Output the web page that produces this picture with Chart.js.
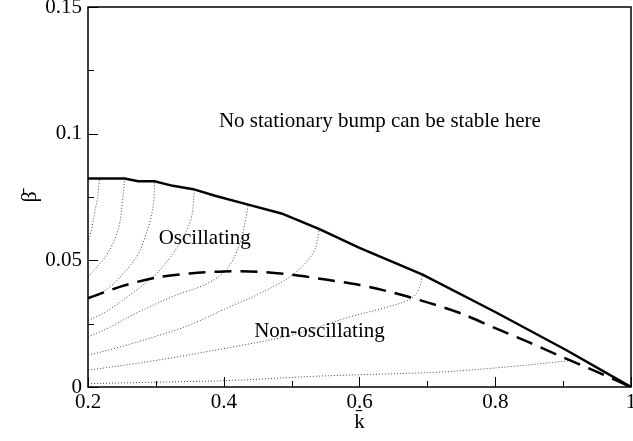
<!DOCTYPE html>
<html>
<head>
<meta charset="utf-8">
<script src="https://cdn.jsdelivr.net/npm/chart.js@4/dist/chart.umd.min.js"></script>
<style>
    html, body { margin: 0; padding: 0; background: #fff; }
    #wrap { width: 633px; height: 441px; }
</style>
</head>
<body>
<div id="wrap"><canvas id="chart"></canvas></div>
<script>
// axis ticks
let xTicks = [0.2, 0.4, 0.6, 0.8, 1];
let xMinor = [0.3, 0.5, 0.7, 0.9];
let yTicks = [0, 0.05, 0.1, 0.15];
let yMinor = [0.025, 0.075, 0.125];

// stability boundary (solid)
let kUpper = [0.2, 0.254, 0.274, 0.298, 0.325, 0.355, 0.387, 0.436, 0.485, 0.541, 0.6, 0.693, 0.8, 0.905, 1.0];
let betaUpper = [0.0823, 0.0823, 0.0812, 0.0812, 0.0794, 0.0781, 0.0755, 0.072, 0.0685, 0.0623, 0.0549, 0.0444, 0.0296, 0.0145, 0];

// oscillating / non-oscillating boundary (dashed)
let kDashed = [0.2, 0.25, 0.3, 0.35, 0.4, 0.45, 0.5, 0.55, 0.6, 0.65, 0.7, 0.75, 0.8, 0.85, 0.9, 0.95, 1.0];
let betaDashed = [0.035, 0.0398, 0.0432, 0.0448, 0.0456, 0.0455, 0.0443, 0.0424, 0.0403, 0.0372, 0.0334, 0.029, 0.0232, 0.0176, 0.0117, 0.006, 0];

// dotted curves
let kDotA = [0.2, 0.205, 0.211, 0.214, 0.217];
let betaDotA = [0.057, 0.062, 0.0704, 0.0745, 0.0823];
let kDotB = [0.2, 0.215, 0.226, 0.237, 0.246, 0.251, 0.254];
let betaDotB = [0.0434, 0.048, 0.0515, 0.057, 0.0638, 0.0737, 0.0823];
let kDotC = [0.2, 0.226, 0.256, 0.275, 0.285, 0.292, 0.297, 0.298];
let betaDotC = [0.0355, 0.0382, 0.046, 0.053, 0.06, 0.066, 0.0737, 0.0812];
let kDotD = [0.2, 0.226, 0.27, 0.3, 0.322, 0.34, 0.352, 0.357];
let betaDotD = [0.0263, 0.0296, 0.038, 0.0445, 0.0515, 0.059, 0.0665, 0.078];
let kDotE = [0.2, 0.233, 0.27, 0.329, 0.373, 0.403, 0.422, 0.432, 0.436];
let betaDotE = [0.0197, 0.0237, 0.029, 0.0362, 0.0405, 0.0461, 0.0553, 0.0658, 0.072];
let kDotF = [0.2, 0.25, 0.3, 0.35, 0.413, 0.45, 0.5, 0.532, 0.541];
let betaDotF = [0.0125, 0.016, 0.02, 0.0245, 0.0322, 0.0365, 0.044, 0.053, 0.0623];
let kDotG = [0.2, 0.3, 0.413, 0.5, 0.585, 0.64, 0.676, 0.688, 0.693];
let betaDotG = [0.0066, 0.0105, 0.0158, 0.0205, 0.0276, 0.0315, 0.0349, 0.039, 0.0444];
let kDotH = [0.2, 0.3, 0.413, 0.531, 0.62, 0.719, 0.816, 0.914];
let betaDotH = [0.0013, 0.0019, 0.0026, 0.0042, 0.005, 0.0059, 0.0079, 0.0105];

// region labels
let noteText = ['No stationary bump can be stable here', 'Oscillating', 'Non-oscillating'];
let noteK = [0.63, 0.372, 0.541];
let noteBeta = [0.1026, 0.0566, 0.0197];

let serif = '"Liberation Serif", "Times New Roman", serif';

let toPoints = (ks, bs) => ks.map((k, i) => ({ x: k, y: bs[i] }));

let dotted = (ks, bs) => ({
    data: toPoints(ks, bs),
    borderColor: '#444',
    borderWidth: 1,
    borderDash: [1, 2],
    pointRadius: 0,
    tension: 0.35,
    fill: false
});

let frameAndTicks = {
    id: 'frameAndTicks',
    afterDatasetsDraw(chart) {
        let { ctx, chartArea: a, scales } = chart;
        ctx.save();
        ctx.strokeStyle = '#000';
        ctx.lineWidth = 1;
        ctx.beginPath();
        xTicks.concat(xMinor).forEach(v => {
            let px = Math.round(scales.x.getPixelForValue(v)) + 0.5;
            let len = xTicks.includes(v) ? 10 : 6;
            ctx.moveTo(px, a.bottom); ctx.lineTo(px, a.bottom - len);
        });
        yTicks.concat(yMinor).forEach(v => {
            let py = Math.round(scales.y.getPixelForValue(v)) + 0.5;
            let len = yTicks.includes(v) ? 10 : 6;
            ctx.moveTo(a.left, py); ctx.lineTo(a.left + len, py);
        });
        ctx.stroke();
        ctx.lineWidth = 1.5;
        ctx.strokeRect(a.left, a.top, a.right - a.left, a.bottom - a.top);

        ctx.fillStyle = '#000';
        ctx.font = '21px ' + serif;
        ctx.textAlign = 'center';
        ctx.textBaseline = 'alphabetic';
        noteText.forEach((t, i) => {
            ctx.fillText(t, scales.x.getPixelForValue(noteK[i]), scales.y.getPixelForValue(noteBeta[i]));
        });
        ctx.restore();
    }
};

let fmt = v => String(+Number(v).toFixed(3));

new Chart(document.getElementById('chart'), {
    type: 'line',
    data: {
        datasets: [
            {
                data: toPoints(kUpper, betaUpper),
                borderColor: '#000',
                borderWidth: 2.5,
                pointRadius: 0,
                tension: 0,
                fill: false
            },
            {
                data: toPoints(kDashed, betaDashed),
                borderColor: '#000',
                borderWidth: 2.5,
                borderDash: [17, 9],
                pointRadius: 0,
                tension: 0.3,
                fill: false
            },
            dotted(kDotA, betaDotA),
            dotted(kDotB, betaDotB),
            dotted(kDotC, betaDotC),
            dotted(kDotD, betaDotD),
            dotted(kDotE, betaDotE),
            dotted(kDotF, betaDotF),
            dotted(kDotG, betaDotG),
            dotted(kDotH, betaDotH)
        ]
    },
    options: {
        responsive: true,
        maintainAspectRatio: false,
        animation: false,
        layout: { padding: { top: 7, right: 2 } },
        plugins: {
            legend: { display: false },
            tooltip: { enabled: false }
        },
        scales: {
            x: {
                type: 'linear',
                min: 0.2,
                max: 1,
                afterBuildTicks: s => { s.ticks = xTicks.map(v => ({ value: v })); },
                afterFit: s => { s.height = 54; s.paddingLeft = 0; s.paddingRight = 0; },
                grid: { display: false, drawTicks: false },
                border: { display: false },
                ticks: {
                    color: '#000',
                    padding: 3,
                    maxRotation: 0,
                    autoSkip: false,
                    font: { family: serif, size: 21 },
                    callback: v => fmt(v)
                },
                title: {
                    display: true,
                    text: 'k\u0304',
                    color: '#000',
                    padding: { bottom: 6 },
                    font: { family: serif, size: 21 }
                }
            },
            y: {
                type: 'linear',
                min: 0,
                max: 0.15,
                afterBuildTicks: s => { s.ticks = yTicks.map(v => ({ value: v })); },
                afterFit: s => { s.width = 88; s.paddingTop = 0; s.paddingBottom = 0; },
                grid: { display: false, drawTicks: false },
                border: { display: false },
                ticks: {
                    color: '#000',
                    padding: 6,
                    autoSkip: false,
                    font: { family: serif, size: 21 },
                    callback: v => fmt(v)
                },
                title: {
                    display: true,
                    text: '\u03b2\u0304',
                    color: '#000',
                    padding: { top: 17 },
                    font: { family: serif, size: 22 }
                }
            }
        }
    },
    plugins: [frameAndTicks]
});
</script>
</body>
</html>
